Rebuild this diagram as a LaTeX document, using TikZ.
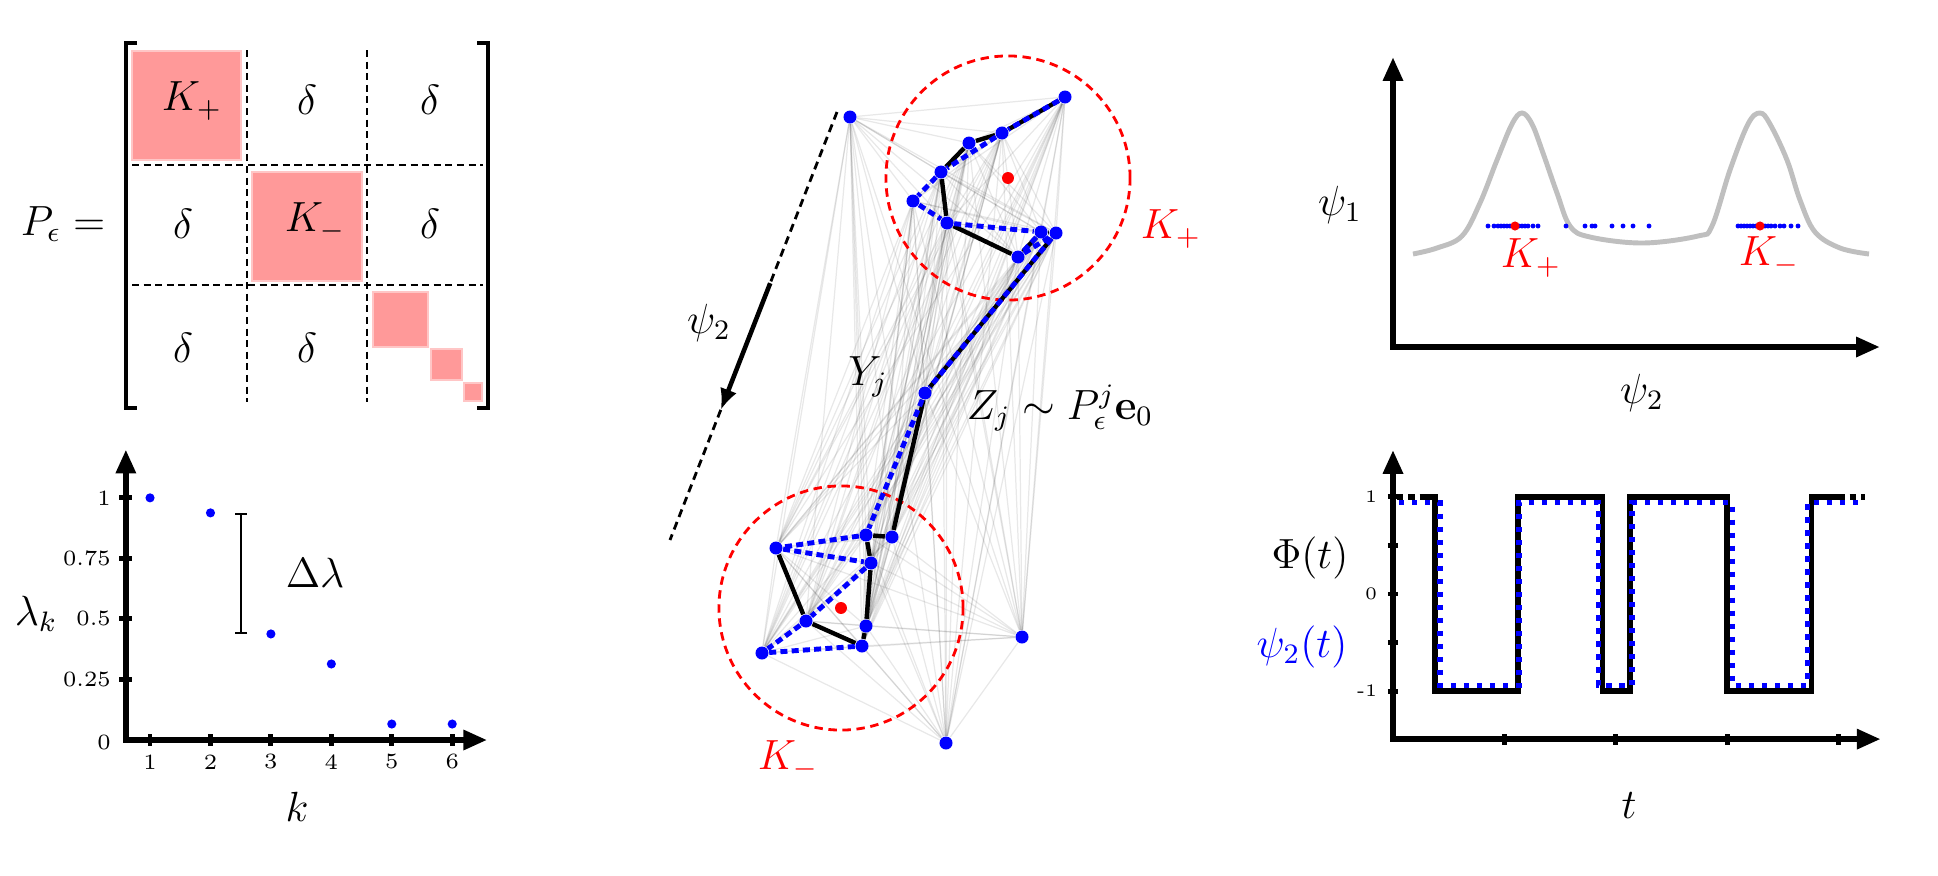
\documentclass[tikz,border=0pt]{standalone}
\usetikzlibrary{arrows.meta, calc, backgrounds}
\definecolor{cpink}{HTML}{FF9999}
\definecolor{cpinkedge}{HTML}{FFC6C6}
\definecolor{ccurve}{HTML}{BFBFBF}
\tikzset{
  lbl/.style={font=\large, inner sep=1pt},
  ticklbl/.style={font=\fontsize{6.2}{7}\selectfont, inner sep=1pt},
  smalltick/.style={font=\tiny, inner sep=1pt},
  axis/.style={line width=1.8pt, {Triangle[length=6.8pt,width=5.4pt]}-{Triangle[length=6.8pt,width=5.4pt]}},
  tickmark/.style={line width=1.4pt},
  block/.style={fill=cpink, draw=cpinkedge, line width=0.5pt},
  sep/.style={dash pattern=on 2pt off 1.3pt, line width=0.4pt},
  vtx/.style={circle, fill=blue, inner sep=0pt, minimum size=3.7pt},
  ctr/.style={circle, fill=red, inner sep=0pt, minimum size=#1},
  ctr/.default=3.4pt,
  web/.style={draw=black, opacity=0.09, line width=0.35pt},
  walk/.style={line width=1.25pt},
  ewalk/.style={draw=blue, line width=1.4pt, dash pattern=on 2pt off 1.2pt},
  cluster/.style={draw=red, line width=0.8pt, dash pattern=on 2.4pt off 1.6pt},
  wave/.style={line width=1.5pt},
  ewave/.style={draw=blue, line width=1.5pt, dash pattern=on 1.5pt off 2.2pt},
}

\begin{document}
\begin{tikzpicture}[x=0.01cm, y=-0.01cm]
  \useasboundingbox (0,0) rectangle (1938,875);

  % the matrix P_eps
  \node[lbl] (peq) at (63,224) {$P_\epsilon =$};
  \draw[block] (132,51) rectangle (241,160);
  \draw[block] (252,172) rectangle (362,281);
  \draw[block] (373,292) rectangle (428,347);
  \draw[block] (431,349) rectangle (462,380);
  \draw[block] (464,383) rectangle (482,401);
  \draw[sep] (132,165) -- (483,165);
  \draw[sep] (132,285) -- (483,285);
  \draw[sep] (247,50) -- (247,402);
  \draw[sep] (367,50) -- (367,402);
  \draw[line width=1.4pt] (137,43) -| (126,408) -- (137,408);
  \draw[line width=1.4pt] (477,43) -| (488,408) -- (477,408);
  \node[lbl] (kp) at (192,101) {$K_+$};
  \node[lbl] (km) at (315,222) {$K_-$};
  \node[lbl] (d12) at (307,100) {$\delta$};
  \node[lbl] (d13) at (430,100) {$\delta$};
  \node[lbl] (d21) at (183,224) {$\delta$};
  \node[lbl] (d23) at (430,224) {$\delta$};
  \node[lbl] (d31) at (183,348) {$\delta$};
  \node[lbl] (d32) at (307,348) {$\delta$};

  % spectrum
  \begin{scope}[shift={(89.6,740)}, x=0.604cm, y=2.42cm]
    \draw[axis] (0.6,1.2) -- (0.6,0) -- (6.58,0);
    \foreach \v in {0.25,0.5,0.75,1} {
      \draw[tickmark] (0.49,\v) -- (0.7,\v);
      \node[ticklbl, anchor=east] at (0.42,\v) {\v};
    }
    \node[ticklbl, anchor=east] at (0.42,-0.012) {0};
    \foreach \k in {1,...,6} {
      \draw[tickmark] (\k,-0.023) -- (\k,0.023);
      \node[ticklbl] at (\k,-0.09) {\k};
    }
    \foreach \k/\v in {1/1, 2/0.938, 3/0.438, 4/0.314, 5/0.066, 6/0.066}
      \node[circle, fill=blue, inner sep=0pt, minimum size=2.6pt] (e\k) at (\k,\v) {};
    \coordinate (gapx) at (2.507,0);
    \draw[line width=0.5pt, {Bar[width=3.4pt]}-{Bar[width=3.4pt]}] (e2 -| gapx) -- (e3 -| gapx);
    \node[lbl] (dl) at (3.73,0.69) {$\Delta\lambda$};
  \end{scope}
  \node[lbl] (lk) at (36,614) {$\lambda_k$};
  \node[lbl] (kk) at (297,807) {$k$};

  % the graph and the two walks
  \node[vtx] (v1) at (850,117) {};
  \node[vtx] (v2) at (1065,97) {};
  \node[vtx] (v3) at (1002,133) {};
  \node[vtx] (v4) at (969,143) {};
  \node[vtx] (v5) at (941,172) {};
  \node[vtx] (v6) at (913,201) {};
  \node[vtx] (v7) at (947,223) {};
  \node[vtx] (v8) at (1041,232) {};
  \node[vtx] (v9) at (1056,233) {};
  \node[vtx] (v10) at (1018,257) {};
  \node[vtx] (v11) at (925,393) {};
  \node[vtx] (v12) at (866,535) {};
  \node[vtx] (v13) at (892,537) {};
  \node[vtx] (v14) at (776,548) {};
  \node[vtx] (v15) at (871,563) {};
  \node[vtx] (v16) at (806,621) {};
  \node[vtx] (v17) at (866,626) {};
  \node[vtx] (v18) at (862,646) {};
  \node[vtx] (v19) at (762,653) {};
  \node[vtx] (v20) at (1022,637) {};
  \node[vtx] (v21) at (946,743) {};
  \node[ctr] (cp) at (1008,178) {};
  \node[ctr] (cm) at (841,608) {};
  \begin{scope}[on background layer]
    \foreach \i in {1,...,20} {
      \pgfmathtruncatemacro\inext{\i+1}
      \foreach \j in {\inext,...,21}
        \draw[web] (v\i) -- (v\j);
    }
  \end{scope}
  \draw[cluster] (cp) circle[radius=1.22cm];
  \draw[cluster] (cm) circle[radius=1.22cm];
  \draw[walk] (v2) -- (v3) -- (v4) -- (v5) -- (v7) -- (v10) -- (v8) -- (v9) -- (v11) -- (v13)
    -- (v12) -- (v15) -- (v17) -- (v18) -- (v16) -- (v14);
  \draw[ewalk] (v2) -- (v3) -- (v5) -- (v6) -- (v7) -- (v8) -- (v10) -- (v9) -- (v11) -- (v12)
    -- (v14) -- (v15) -- (v16) -- (v19) -- (v18);
  \node[lbl, text=red] (kpl) at (1171,229) {$K_+$};
  \node[lbl, text=red] (kml) at (788,760) {$K_-$};
  \node[lbl] (yj) at (868,377) {$Y_j$};
  \node[lbl] (zj) at (1060,408) {$Z_j \sim P_\epsilon^j\mathbf{e}_0$};

  % direction of psi_2
  \coordinate (ptop) at (837,112);
  \coordinate (pbot) at (670,540);
  \coordinate (pa) at ($(ptop)!0.4!(pbot)$);
  \coordinate (pb) at ($(ptop)!0.696!(pbot)$);
  \draw[line width=0.8pt, dash pattern=on 2.3pt off 1.5pt] (ptop) -- (pa);
  \draw[line width=0.8pt, dash pattern=on 2.3pt off 1.5pt] (pb) -- (pbot);
  \draw[line width=1.3pt, -{Latex[length=6pt,width=5pt]}] (pa) -- (pb);
  \node[lbl] (psi) at (709,323) {$\psi_2$};

  % embedding
  \draw[axis] (1393,57) -- (1393,347) -- (1880,347);
  \draw[ccurve, line width=1.4pt] plot[smooth, tension=0.6] coordinates {(1413,254) (1437,248)
    (1462,236) (1480,203) (1497,160) (1512,124) (1522,113) (1532,124) (1543,153) (1557,193)
    (1570,226) (1590,237) (1643,243) (1698,236) (1712,226) (1730,170) (1748,124) (1760,113)
    (1770,124) (1787,160) (1800,200) (1815,232) (1840,248) (1869,254)};
  \foreach \x in {1488,1494,1498,1501,1504,1507,1510,1513,1516,1519,1522,1525,1528,1533,1538,
      1566,1585,1592,1595,1612,1623,1633,1649,
      1738,1741,1744,1747,1750,1753,1756,1759,1762,1765,1768,1771,1775,1780,1784,1791,1798}
    \fill[blue] (\x,226) circle[radius=0.7pt];
  \node[ctr=2.6pt] (rp) at (1515,226) {};
  \node[ctr=2.6pt] (rm) at (1760,226) {};
  \node[lbl, text=red] (kpe) at (1531,258) {$K_+$};
  \node[lbl, text=red] (kme) at (1769,256) {$K_-$};
  \node[lbl] (psia) at (1340,205) {$\psi_1$};
  \node[lbl] (psib) at (1642,393) {$\psi_2$};

  % signal in time
  \begin{scope}[shift={(1393,594)}, x=1.113cm, y=0.97cm]
    \draw[axis] (0,1.485) -- (0,-1.495) -- (4.38,-1.495);
    \foreach \v in {-1,-0.5,0,0.5,1}
      \draw[tickmark] (-0.045,\v) -- (0.045,\v);
    \foreach \t in {1,...,4}
      \draw[tickmark] (\t,-1.443) -- (\t,-1.557);
    \foreach \v in {1,0,-1}
      \node[smalltick, anchor=east] at (-0.105,\v) {\v};
    \draw[wave, dash pattern=on 1.8pt off 1.4pt] (0.036,1) -- (0.30,1);
    \draw[wave] (0.30,1) -| (0.377,-1) -| (1.123,1) -| (1.878,-1) -| (2.129,1) -| (3.0,-1)
      -| (3.756,1) -- (4.0,1);
    \draw[wave, dash pattern=on 1.8pt off 1.4pt] (4.0,1) -- (4.24,1);
    \draw[ewave] (0.054,0.94) -| (0.422,-0.94) -| (1.132,0.94) -| (1.842,-0.94) -| (2.147,0.94)
      -| (3.046,-0.94) -| (3.72,0.94) -- (4.24,0.94);
  \end{scope}
  \node[lbl] (phi) at (1310,558) {$\Phi(t)$};
  \node[lbl, text=blue] (psit) at (1302,647) {$\psi_2(t)$};
  \node[lbl] (tt) at (1629,806) {$t$};
\end{tikzpicture}
\end{document}
